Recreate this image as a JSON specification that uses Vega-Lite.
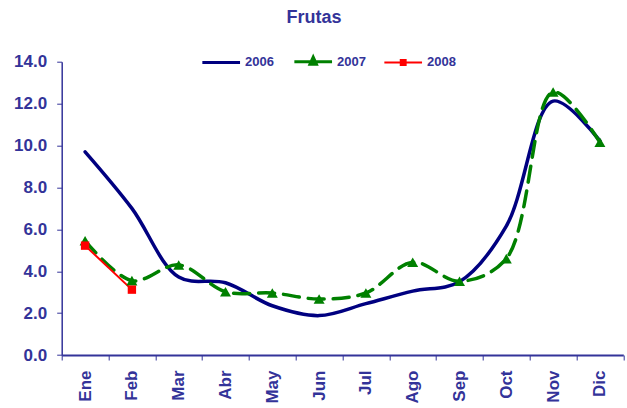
{
  "$schema": "https://vega.github.io/schema/vega-lite/v6.json",
  "width": 561.6,
  "height": 293.3,
  "autosize": {"type": "none"},
  "padding": {"left": 61.7, "top": 61.7, "right": 3.7, "bottom": 53},
  "background": "white",
  "config": {"view": {"stroke": null}, "font": "Liberation Sans"},
  "title": {
    "text": "Frutas",
    "font": "Liberation Sans",
    "fontSize": 18,
    "fontWeight": "bold",
    "color": "#333399",
    "anchor": "middle",
    "frame": "group",
    "dx": -28.5,
    "baseline": "alphabetic",
    "offset": 12
  },
  "data": {
    "values": [
      {"mes": "Ene", "serie": "2006", "valor": 9.7},
      {"mes": "Feb", "serie": "2006", "valor": 7.0},
      {"mes": "Mar", "serie": "2006", "valor": 3.72},
      {"mes": "Abr", "serie": "2006", "valor": 3.45},
      {"mes": "May", "serie": "2006", "valor": 2.35},
      {"mes": "Jun", "serie": "2006", "valor": 1.88},
      {"mes": "Jul", "serie": "2006", "valor": 2.45},
      {"mes": "Ago", "serie": "2006", "valor": 3.05},
      {"mes": "Sep", "serie": "2006", "valor": 3.5},
      {"mes": "Oct", "serie": "2006", "valor": 6.15},
      {"mes": "Nov", "serie": "2006", "valor": 12.12},
      {"mes": "Dic", "serie": "2006", "valor": 10.22},
      {"mes": "Ene", "serie": "2007", "valor": 5.45},
      {"mes": "Feb", "serie": "2007", "valor": 3.55},
      {"mes": "Mar", "serie": "2007", "valor": 4.3},
      {"mes": "Abr", "serie": "2007", "valor": 3.02},
      {"mes": "May", "serie": "2007", "valor": 2.96},
      {"mes": "Jun", "serie": "2007", "valor": 2.67},
      {"mes": "Jul", "serie": "2007", "valor": 2.96},
      {"mes": "Ago", "serie": "2007", "valor": 4.43},
      {"mes": "Sep", "serie": "2007", "valor": 3.52},
      {"mes": "Oct", "serie": "2007", "valor": 4.6},
      {"mes": "Nov", "serie": "2007", "valor": 12.55},
      {"mes": "Dic", "serie": "2007", "valor": 10.15},
      {"mes": "Ene", "serie": "2008", "valor": 5.22},
      {"mes": "Feb", "serie": "2008", "valor": 3.12}
    ]
  },
  "encoding": {
    "x": {
      "field": "mes",
      "type": "nominal",
      "sort": ["Ene","Feb","Mar","Abr","May","Jun","Jul","Ago","Sep","Oct","Nov","Dic"],
      "scale": {"type": "band", "paddingInner": 0, "paddingOuter": 0},
      "bandPosition": 0.5,
      "axis": {
        "title": null,
        "labelAngle": -90,
        "labelFont": "Liberation Sans",
        "labelFontSize": 17,
        "labelFontWeight": "bold",
        "labelColor": "#333399",
        "labelPadding": 10,
        "tickSize": 5,
        "tickBand": "extent",
        "tickColor": "#333399",
        "tickWidth": 1,
        "domainColor": "#333399",
        "domainWidth": 2,
        "grid": false
      }
    },
    "y": {
      "field": "valor",
      "type": "quantitative",
      "scale": {"domain": [0, 14], "nice": false},
      "axis": {
        "title": null,
        "values": [0, 2, 4, 6, 8, 10, 12, 14],
        "format": ".1f",
        "labelFont": "Liberation Sans",
        "labelFontSize": 17,
        "labelFontWeight": "bold",
        "labelColor": "#333399",
        "labelPadding": 10,
        "tickSize": 5,
        "tickColor": "#333399",
        "tickWidth": 1,
        "domainColor": "#333399",
        "domainWidth": 1.5,
        "grid": false
      }
    },
    "color": {
      "field": "serie",
      "type": "nominal",
      "scale": {"domain": ["2006", "2007", "2008"], "range": ["#000080", "#008000", "#FF0000"]},
      "legend": {
        "title": null,
        "orient": "none",
        "legendX": 153,
        "legendY": -6.5,
        "direction": "horizontal",
        "symbolSize": 1420,
        "symbolType": "M-1,0H1",
        "symbolStrokeWidth": 3,
        "labelOffset": 17.3,
        "columnPadding": 13,
        "labelFont": "Liberation Sans",
        "labelFontSize": 13,
        "labelFontWeight": "bold",
        "labelColor": "#333399",
        "padding": 0,
        "encode": {
          "symbols": {
            "update": {
              "shape": {"signal": "datum.value === '2006' ? 'M-1,0H1' : datum.value === '2007' ? 'M-1,0H1M0,-0.24L0.17,0.13L-0.17,0.13Z' : 'M-1,0H1M-0.13,-0.13H0.13V0.13H-0.13Z'"},
              "size": {"value": 1420},
              "fill": {"signal": "datum.value === '2006' ? 'transparent' : datum.value === '2007' ? '#008000' : '#FF0000'"},
              "stroke": {"signal": "datum.value === '2006' ? '#000080' : datum.value === '2007' ? '#008000' : '#FF0000'"},
              "strokeWidth": {"signal": "datum.value === '2008' ? 2 : 3"},
              "strokeDash": {"value": []},
              "opacity": {"value": 1},
              "fillOpacity": {"value": 1}
            }
          }
        }
      }
    }
  },
  "layer": [
    {
      "transform": [{"filter": "datum.serie === '2006'"}],
      "mark": {"type": "line", "interpolate": "catmull-rom", "strokeCap": "round", "strokeJoin": "round", "strokeWidth": 3.5}
    },
    {
      "transform": [{"filter": "datum.serie === '2007'"}],
      "mark": {"type": "line", "interpolate": "catmull-rom", "strokeCap": "round", "strokeJoin": "round", "strokeWidth": 3.5, "strokeDash": [16, 9]}
    },
    {
      "transform": [{"filter": "datum.serie === '2008'"}],
      "mark": {"type": "line", "interpolate": "linear", "strokeWidth": 2}
    },
    {
      "transform": [{"filter": "datum.serie === '2007'"}],
      "mark": {"type": "point", "filled": true, "opacity": 1, "shape": "triangle-up", "size": 121}
    },
    {
      "transform": [{"filter": "datum.serie === '2008'"}],
      "mark": {"type": "point", "filled": true, "opacity": 1, "shape": "square", "size": 70}
    }
  ]
}
